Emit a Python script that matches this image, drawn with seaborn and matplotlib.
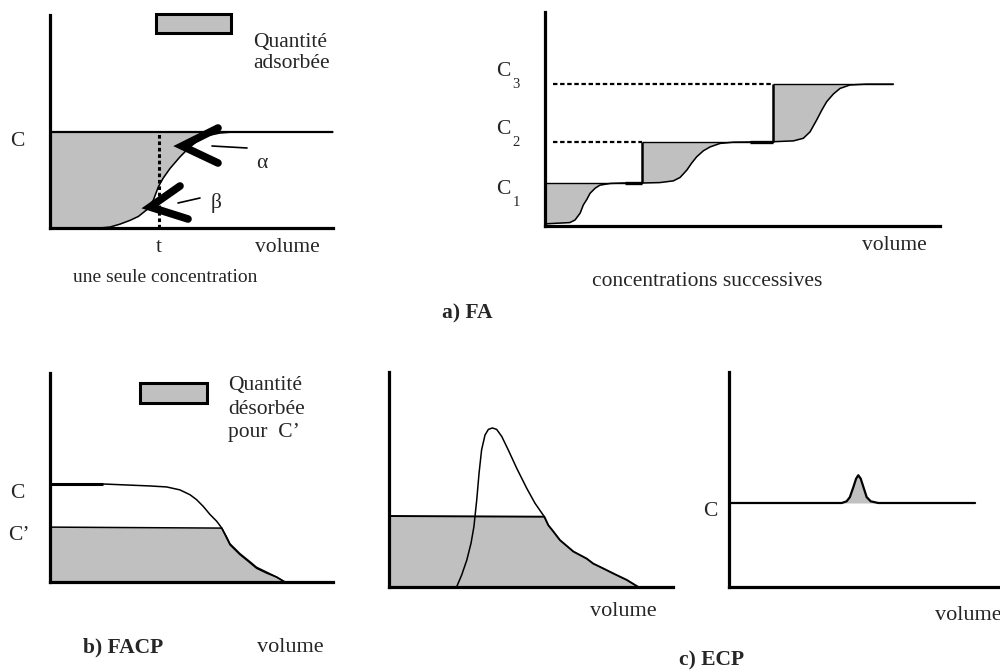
import numpy as np
import pandas as pd
import seaborn as sns
import matplotlib.pyplot as plt
from matplotlib.patches import Rectangle

sns.set_style("white")
plt.rcParams['font.family'] = ['Liberation Serif', 'DejaVu Serif']

GREY = '#c0c0c0'
W, H = 1000, 670

# a) FA - one concentration (C = 1), volume in arbitrary units 0..10
fa_vol = [0, 1.77, 2.12, 2.47, 2.83, 3.12, 3.42, 3.65, 3.83, 4.00, 4.24, 4.59,
          4.89, 5.18, 5.54, 6.01, 6.48, 10]
fa_conc = [0, 0, 0.01, 0.04, 0.08, 0.12, 0.19, 0.29, 0.43, 0.52, 0.62, 0.74,
           0.83, 0.90, 0.96, 0.99, 1.0, 1.0]
fa_t = 3.85

# a) FA - successive concentrations C1, C2, C3
step_levels = [1.0, 1.96, 3.30]
step_starts = [0, 2.45, 5.78]
step1_vol = [0, 0.63, 0.76, 0.89, 0.97, 1.06, 1.14, 1.27, 1.39, 1.65, 1.97, 2.45]
step1_conc = [0.05, 0.08, 0.14, 0.30, 0.49, 0.62, 0.76, 0.88, 0.95, 0.99, 1.0, 1.0]
step2_vol = [2.45, 2.91, 3.25, 3.42, 3.59, 3.71, 3.84, 4.01, 4.18, 4.43, 4.77, 5.78]
step2_conc = [1.0, 1.01, 1.05, 1.13, 1.30, 1.46, 1.61, 1.75, 1.84, 1.92, 1.95, 1.96]
step3_vol = [5.78, 6.29, 6.54, 6.71, 6.88, 7.01, 7.13, 7.30, 7.47, 7.72, 8.14, 8.82]
step3_conc = [1.96, 1.98, 2.04, 2.19, 2.47, 2.70, 2.89, 3.07, 3.20, 3.28, 3.30, 3.30]

# b) FACP - C front and desorption down to C'
facp_vol = [0, 1.88, 3.53, 4.12, 4.59, 4.95, 5.18, 5.42, 5.65, 5.89, 6.07,
            6.24, 6.36, 6.71, 7.01, 7.30, 7.66, 8.01, 8.30]
facp_conc = [1.0, 1.0, 0.98, 0.97, 0.94, 0.89, 0.84, 0.77, 0.69, 0.62, 0.55,
             0.46, 0.39, 0.29, 0.22, 0.15, 0.10, 0.05, 0]
desorb_vol = [0, 6.07, 6.24, 6.36, 6.71, 7.01, 7.30, 7.66, 8.01, 8.30]
desorb_conc = [0.56, 0.55, 0.45, 0.38, 0.28, 0.21, 0.14, 0.09, 0.05, 0]

# c) ECP - large injection
peak_vol = [2.38, 2.56, 2.74, 2.89, 2.99, 3.09, 3.17, 3.26, 3.38, 3.50, 3.64,
            3.79, 3.97, 4.20, 4.50, 4.85, 5.14, 5.47]
peak_conc = [0, 0.17, 0.38, 0.62, 0.85, 1.23, 1.60, 1.93, 2.14, 2.22, 2.24,
             2.22, 2.12, 1.93, 1.67, 1.39, 1.18, 0.99]
tail_vol = [0, 5.47, 5.61, 5.79, 6.02, 6.49, 6.96, 7.19, 7.55, 7.90, 8.37, 8.78]
tail_conc = [1.0, 0.99, 0.87, 0.78, 0.66, 0.50, 0.40, 0.33, 0.26, 0.19, 0.10, 0]

# c) ECP - small pulse on plateau C
pulse_vol = [0, 4.16, 4.34, 4.46, 4.59, 4.69, 4.77, 4.86, 4.96, 5.08, 5.23, 5.51, 9.08]
pulse_conc = [1.0, 1.0, 1.02, 1.07, 1.19, 1.29, 1.33, 1.29, 1.19, 1.07, 1.02, 1.0, 1.0]

fig = plt.figure(figsize=(10, 6.7), dpi=100)


def panel(left, top, right, bottom, ymax):
    ax = fig.add_axes([left / W, 1 - bottom / H, (right - left) / W, (bottom - top) / H])
    ax.set_xlim(0, 10)
    ax.set_ylim(0, ymax)
    sns.despine(ax=ax)
    for s in ('left', 'bottom'):
        ax.spines[s].set_linewidth(2.3)
        ax.spines[s].set_color('black')
        ax.spines[s].set_capstyle('projecting')
    ax.set_xticks([])
    ax.set_yticks([])
    ax.patch.set_alpha(0)
    return ax


def curve(ax, x, y, lw=1.1):
    sns.lineplot(x=x, y=y, ax=ax, color='black', lw=lw, sort=False,
                 estimator=None, clip_on=False)


def label(x, y, s, size=15.5, ha='center', weight='normal'):
    fig.text(x / W, 1 - y / H, s, ha=ha, va='center', fontsize=size,
             fontweight=weight)


# ---- top left: une seule concentration
ax1 = panel(50, 15, 333, 228, 213 / 96)
ax1.fill_between(fa_vol, fa_conc, 1.0, color=GREY, lw=0)
ax1.axhline(1.0, color='black', lw=1.6)
curve(ax1, fa_vol, fa_conc)
ax1.vlines(fa_t, 0, 1.0, color='black', lw=2.2, linestyles=(0, (1.2, 0.9)))

# ---- top right: concentrations successives
ax2 = panel(545, 12, 940, 226, 214 / 43)
steps = [(step1_vol, step1_conc), (step2_vol, step2_conc), (step3_vol, step3_conc)]
for i, (sv, sc) in enumerate(steps):
    lvl = step_levels[i]
    ax2.fill_between(sv, sc, lvl, color=GREY, lw=0)
    ax2.hlines(lvl, sv[0], sv[-1], color='black', lw=1.0)
    curve(ax2, sv, sc)
    lo = 0 if i == 0 else step_levels[i - 1]
    ax2.vlines(step_starts[i], lo, lvl, color='black', lw=1.8, clip_on=False)
ax2.hlines(step_levels[0], 2.03, step_starts[1], color='black', lw=2.4)
ax2.hlines(step_levels[1], 5.19, step_starts[2], color='black', lw=2.4)
ax2.hlines(step_levels[2], 0.2, step_starts[2], color='black', lw=1.6,
           linestyles=(0, (2, 1.2)))
ax2.hlines(step_levels[1], 0.2, step_starts[1], color='black', lw=1.6,
           linestyles=(0, (2, 1.2)))

# ---- bottom left: FACP
ax3 = panel(50, 373, 333, 582, 209 / 98)
ax3.fill_between(desorb_vol, desorb_conc, 0, color=GREY, lw=0)
curve(ax3, desorb_vol, desorb_conc)
curve(ax3, facp_vol, facp_conc)
ax3.hlines(1.0, 0, 1.88, color='black', lw=2.2)

# ---- bottom middle: ECP large peak
ax4 = panel(389, 372, 673, 587, 215 / 71)
ax4.fill_between(tail_vol, tail_conc, 0, color=GREY, lw=0)
curve(ax4, tail_vol, tail_conc, lw=1.4)
curve(ax4, peak_vol, peak_conc)

# ---- bottom right: ECP small pulse
ax5 = panel(729, 372, 1000, 587, 215 / 84)
ax5.fill_between(pulse_vol, pulse_conc, 1.0, color=GREY, lw=0)
curve(ax5, pulse_vol, pulse_conc, lw=1.6)

# ---- overlay for legend boxes and arrows (pixel coordinates)
ov = fig.add_axes([0, 0, 1, 1], zorder=10)
ov.set_xlim(0, W)
ov.set_ylim(H, 0)
ov.axis('off')
ov.patch.set_alpha(0)
ov.add_patch(Rectangle((156, 14), 75, 19, fc=GREY, ec='black', lw=2.2))
ov.add_patch(Rectangle((140, 383), 67, 20, fc=GREY, ec='black', lw=2.2))
ov.plot([218, 182, 218], [128, 146, 163], color='black', lw=5.5, solid_joinstyle='miter')
ov.plot([180, 150, 188], [186, 207, 219], color='black', lw=5.5, solid_joinstyle='miter')
ov.plot([212, 247], [146, 148], color='black', lw=1.2)
ov.plot([178, 200], [203, 198], color='black', lw=1.2)

# ---- texts
label(17, 141, 'C')
label(253, 43, 'Quantité', ha='left')
label(253, 63, 'adsorbée', ha='left')
label(262, 163, 'α')
label(216, 203, 'β')
label(159, 247, 't')
label(287, 247, 'volume')
label(165, 277, 'une seule concentration', size=14)

for cy, sub in [(72, '3'), (130, '2'), (190, '1')]:
    label(503, cy, 'C')
    label(516, cy + 12, sub, size=10.5)
label(894, 245, 'volume')
label(707, 282, 'concentrations successives')
label(467, 313, 'a) FA', weight='bold')

label(17, 494, 'C')
label(19, 535, 'C’')
label(228, 386, 'Quantité', ha='left')
label(228, 409, 'désorbée', ha='left')
label(228, 432, 'pour  C’', ha='left')
label(123, 647, 'b) FACP', weight='bold')
label(290, 647, 'volume', size=16)

label(623, 612, 'volume', size=16)
label(710, 511, 'C')
label(968, 615, 'volume', size=16)
label(712, 660, 'c) ECP', weight='bold')

fig.savefig('out.png', dpi=100)
